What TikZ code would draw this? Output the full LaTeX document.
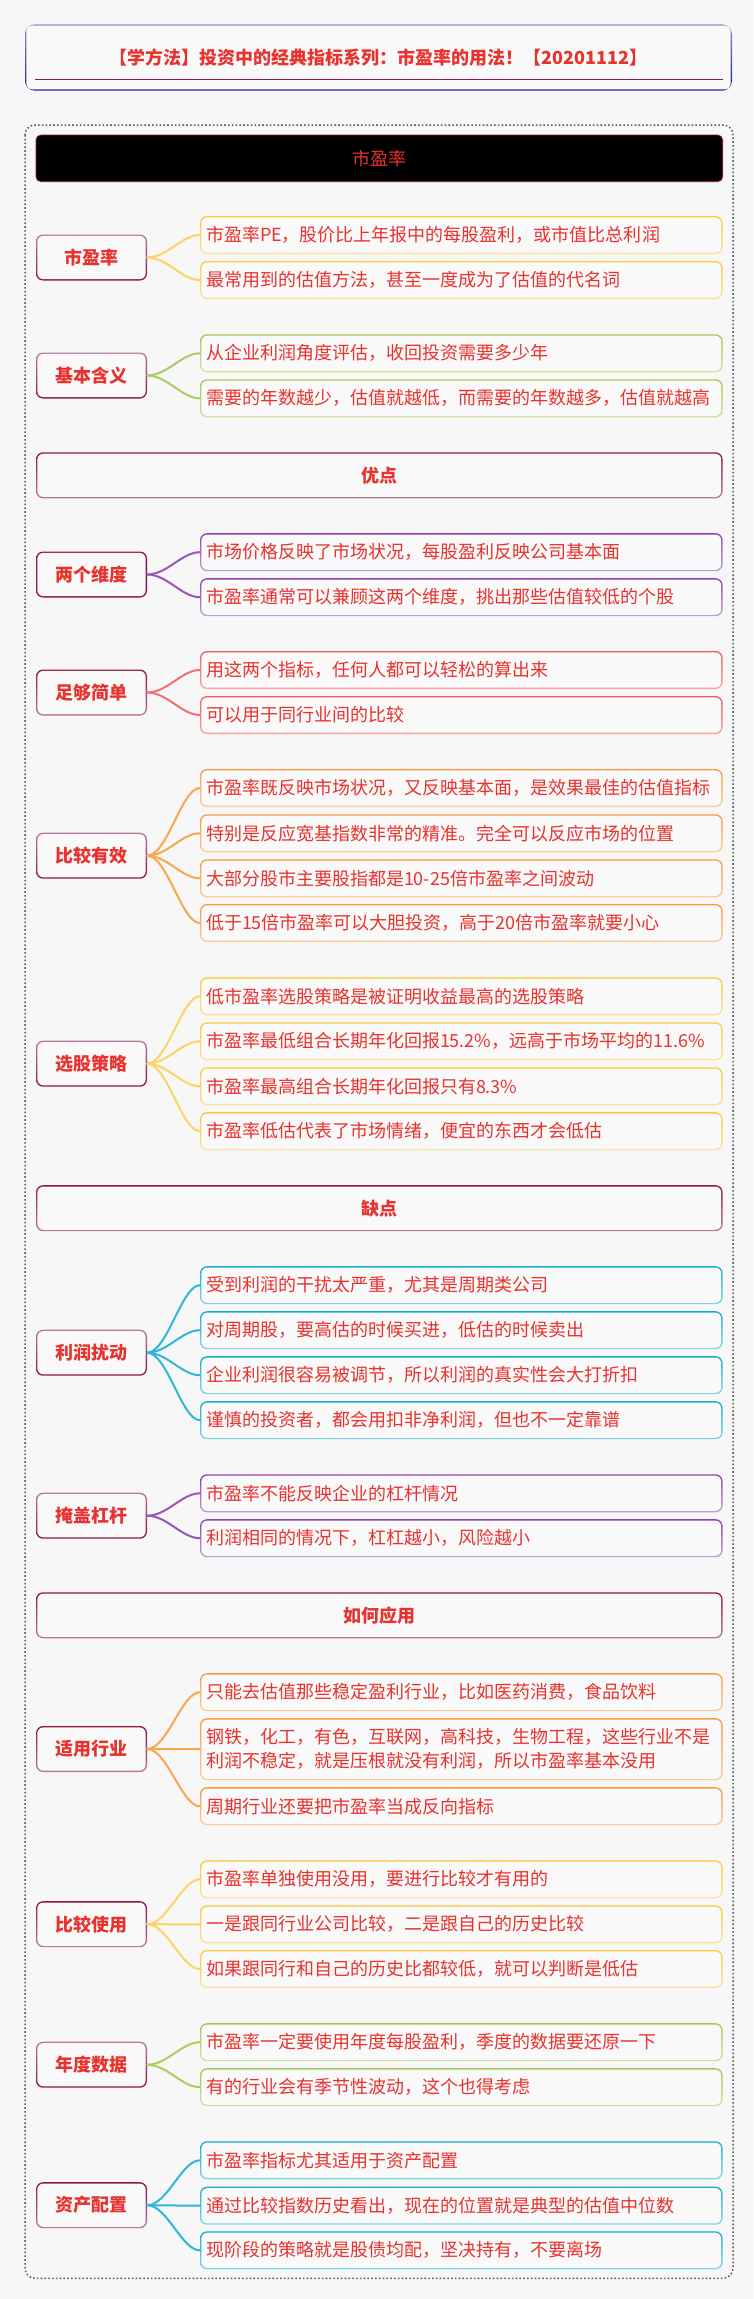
\documentclass[tikz,border=0pt]{standalone}
\usepackage{fontspec}
\setmainfont{Noto Sans CJK SC}
\definecolor{pagebg}{HTML}{F7F7F7}
\definecolor{boxbg}{HTML}{F9F9F9}
\definecolor{txtred}{HTML}{E8322E}
\definecolor{mauve}{HTML}{B9789F}
\definecolor{crim}{HTML}{8C1548}
\definecolor{navyT}{HTML}{8D93C6}
\definecolor{navyB}{HTML}{1B2B8C}
\definecolor{yelT}{HTML}{FCC93A}\definecolor{yelB}{HTML}{FDE1A0}\definecolor{yelC}{HTML}{FDD368}
\definecolor{grnT}{HTML}{A3C657}\definecolor{grnB}{HTML}{D0E2A2}\definecolor{grnC}{HTML}{ABCB65}
\definecolor{purT}{HTML}{8E3FAE}\definecolor{purB}{HTML}{C49AD6}\definecolor{purC}{HTML}{9B55B8}
\definecolor{salT}{HTML}{F05A5E}\definecolor{salB}{HTML}{F7A4A4}\definecolor{salC}{HTML}{F27072}
\definecolor{orgT}{HTML}{F89B3C}\definecolor{orgB}{HTML}{FCCB98}\definecolor{orgC}{HTML}{F9A652}
\definecolor{cyaT}{HTML}{12ADD0}\definecolor{cyaB}{HTML}{84D5EA}\definecolor{cyaC}{HTML}{2EB7D9}
\newcommand\cnx[3]{\draw[conn=#1] (#2.east) .. controls +(20,0) and +(-18,0) .. (#3.west);}
\tikzset{
  gbox/.style 2 args={shade, top color=#1, bottom color=#2, rounded corners=7pt,
    path picture={\fill[boxbg, rounded corners=5.8pt]
      ([xshift=1.4pt,yshift=-1.4pt]path picture bounding box.north west) rectangle
      ([xshift=-1.4pt,yshift=1.4pt]path picture bounding box.south east);}},
  keynode/.style 2 args={gbox={#1}{#2}, minimum width=111pt, minimum height=46pt, inner sep=0pt,
    font=\bfseries\fontsize{18}{22}\selectfont, text=txtred},
  secnode/.style 2 args={gbox={#1}{#2}, minimum width=686.6pt, minimum height=46pt, inner sep=0pt,
    font=\bfseries\fontsize{18}{22}\selectfont, text=txtred},
  leaf/.style 2 args={gbox={#1}{#2}, text width=510.6pt, inner xsep=6pt, inner ysep=0pt,
    minimum height=38pt, align=left, font=\fontsize{18}{24}\selectfont, text=txtred},
  conn/.style={draw=#1, line width=2pt, line cap=round}
}
\begin{document}
\begin{tikzpicture}[x=1pt,y=-1pt]
\fill[pagebg] (0,0) rectangle (753,2299);
\useasboundingbox (0,0) rectangle (753,2299);
% title
\node[gbox={navyT}{navyB}, rounded corners=10pt, minimum width=707pt, minimum height=66.4pt, inner sep=0pt]
  (title) at (378.5,57.5) {};
\node[font=\bfseries\fontsize{18}{22}\selectfont, text=txtred] (titletext) at (378.5,57.3)
  {【学方法】投资中的经典指标系列：市盈率的用法！【20201112】};
\coordinate (ulA) at (35,79.3);
\coordinate (ulB) at (722.6,79.3);
\draw[crim, line width=1.2pt] (ulA) -- (ulB);
% outer dotted frame
\draw[black!65, line width=1.5pt, dash pattern=on 1.6pt off 2.2pt, rounded corners=10pt]
  (25,125) rectangle (733,2278.3);
% black header
\node[fill=black, draw=crim, line width=0.8pt, rounded corners=5pt, minimum width=686.6pt,
  minimum height=46.7pt, inner sep=0pt, text=txtred, font=\fontsize{18}{22}\selectfont]
  (root) at (379.3,158.35) {市盈率};

% ---- group A
\node[keynode={mauve}{crim}] (kA) at (91.5,257.5) {市盈率};
\node[leaf={yelT}{yelB}] (a1) at (461.3,235) {市盈率PE，股价比上年报中的每股盈利，或市值比总利润};
\node[leaf={yelT}{yelB}] (a2) at (461.3,280) {最常用到的估值方法，甚至一度成为了估值的代名词};
\cnx{yelC}{kA}{a1}\cnx{yelC}{kA}{a2}
% ---- group B
\node[keynode={mauve}{crim}] (kB) at (91.5,375.5) {基本含义};
\node[leaf={grnT}{grnB}] (b1) at (461.3,353.3) {从企业利润角度评估，收回投资需要多少年};
\node[leaf={grnT}{grnB}] (b2) at (461.3,398.3) {需要的年数越少，估值就越低，而需要的年数越多，估值就越高};
\cnx{grnC}{kB}{b1}\cnx{grnC}{kB}{b2}
% ---- section 1
\node[secnode={crim}{mauve}] (s1) at (379.3,475.3) {优点};
% ---- group C
\node[keynode={crim}{crim}] (kC) at (91.5,574.5) {两个维度};
\node[leaf={purT}{purB}] (c1) at (461.3,552.2) {市场价格反映了市场状况，每股盈利反映公司基本面};
\node[leaf={purT}{purB}] (c2) at (461.3,597.2) {市盈率通常可以兼顾这两个维度，挑出那些估值较低的个股};
\cnx{purC}{kC}{c1}\cnx{purC}{kC}{c2}
% ---- group D
\node[keynode={crim}{mauve}] (kD) at (91.5,692.5) {足够简单};
\node[leaf={salT}{salB}] (d1) at (461.3,670) {用这两个指标，任何人都可以轻松的算出来};
\node[leaf={salT}{salB}] (d2) at (461.3,715) {可以用于同行业间的比较};
\cnx{salC}{kD}{d1}\cnx{salC}{kD}{d2}
% ---- group E
\node[keynode={mauve}{crim}] (kE) at (91.5,855.7) {比较有效};
\node[leaf={orgT}{orgB}] (e1) at (461.3,788) {市盈率既反映市场状况，又反映基本面，是效果最佳的估值指标};
\node[leaf={orgT}{orgB}] (e2) at (461.3,833.3) {特别是反应宽基指数非常的精准。完全可以反应市场的位置};
\node[leaf={orgT}{orgB}] (e3) at (461.3,878.3) {大部分股市主要股指都是10-25倍市盈率之间波动};
\node[leaf={orgT}{orgB}] (e4) at (461.3,923) {低于15倍市盈率可以大胆投资，高于20倍市盈率就要小心};
\cnx{orgC}{kE}{e1}\cnx{orgC}{kE}{e2}\cnx{orgC}{kE}{e3}\cnx{orgC}{kE}{e4}
% ---- group F
\node[keynode={mauve}{crim}] (kF) at (91.5,1063.7) {选股策略};
\node[leaf={yelT}{yelB}] (f1) at (461.3,996.3) {低市盈率选股策略是被证明收益最高的选股策略};
\node[leaf={yelT}{yelB}] (f2) at (461.3,1041.3) {市盈率最低组合长期年化回报15.2\%，远高于市场平均的11.6\%};
\node[leaf={yelT}{yelB}] (f3) at (461.3,1086.3) {市盈率最高组合长期年化回报只有8.3\%};
\node[leaf={yelT}{yelB}] (f4) at (461.3,1131.2) {市盈率低估代表了市场情绪，便宜的东西才会低估};
\cnx{yelC}{kF}{f1}\cnx{yelC}{kF}{f2}\cnx{yelC}{kF}{f3}\cnx{yelC}{kF}{f4}
% ---- section 2
\node[secnode={crim}{mauve}] (s2) at (379.3,1208.2) {缺点};
% ---- group G
\node[keynode={mauve}{crim}] (kG) at (91.5,1352.7) {利润扰动};
\node[leaf={cyaT}{cyaB}] (g1) at (461.3,1285.2) {受到利润的干扰太严重，尤其是周期类公司};
\node[leaf={cyaT}{cyaB}] (g2) at (461.3,1330.2) {对周期股，要高估的时候买进，低估的时候卖出};
\node[leaf={cyaT}{cyaB}] (g3) at (461.3,1375.2) {企业利润很容易被调节，所以利润的真实性会大打折扣};
\node[leaf={cyaT}{cyaB}] (g4) at (461.3,1420.2) {谨慎的投资者，都会用扣非净利润，但也不一定靠谱};
\cnx{cyaC}{kG}{g1}\cnx{cyaC}{kG}{g2}\cnx{cyaC}{kG}{g3}\cnx{cyaC}{kG}{g4}
% ---- group H
\node[keynode={mauve}{crim}] (kH) at (91.5,1515.7) {掩盖杠杆};
\node[leaf={purT}{purB}] (h1) at (461.3,1493.3) {市盈率不能反映企业的杠杆情况};
\node[leaf={purT}{purB}] (h2) at (461.3,1538.2) {利润相同的情况下，杠杠越小，风险越小};
\cnx{purC}{kH}{h1}\cnx{purC}{kH}{h2}
% ---- section 3
\node[secnode={crim}{mauve}] (s3) at (379.3,1615.3) {如何应用};
% ---- group I
\node[keynode={crim}{mauve}] (kI) at (91.5,1749) {适用行业};
\node[leaf={orgT}{orgB}] (i1) at (461.3,1692.2) {只能去估值那些稳定盈利行业，比如医药消费，食品饮料};
\node[leaf={orgT}{orgB}, minimum height=62pt] (i2) at (461.3,1749.2) {钢铁，化工，有色，互联网，高科技，生物工程，这些行业不是\\利润不稳定，就是压根就没有利润，所以市盈率基本没用};
\node[leaf={orgT}{orgB}] (i3) at (461.3,1806.2) {周期行业还要把市盈率当成反向指标};
\cnx{orgC}{kI}{i1}\cnx{orgC}{kI}{i2}\cnx{orgC}{kI}{i3}
% ---- group J
\node[keynode={crim}{mauve}] (kJ) at (91.5,1924.2) {比较使用};
\node[leaf={yelT}{yelB}] (j1) at (461.3,1879.3) {市盈率单独使用没用，要进行比较才有用的};
\node[leaf={yelT}{yelB}] (j2) at (461.3,1924.3) {一是跟同行业公司比较，二是跟自己的历史比较};
\node[leaf={yelT}{yelB}] (j3) at (461.3,1969) {如果跟同行和自己的历史比都较低，就可以判断是低估};
\cnx{yelC}{kJ}{j1}\cnx{yelC}{kJ}{j2}\cnx{yelC}{kJ}{j3}
% ---- group K
\node[keynode={mauve}{crim}] (kK) at (91.5,2064.7) {年度数据};
\node[leaf={grnT}{grnB}] (k1) at (461.3,2042.2) {市盈率一定要使用年度每股盈利，季度的数据要还原一下};
\node[leaf={grnT}{grnB}] (k2) at (461.3,2087.2) {有的行业会有季节性波动，这个也得考虑};
\cnx{grnC}{kK}{k1}\cnx{grnC}{kK}{k2}
% ---- group L
\node[keynode={crim}{mauve}] (kL) at (91.5,2205.2) {资产配置};
\node[leaf={cyaT}{cyaB}] (l1) at (461.3,2160.3) {市盈率指标尤其适用于资产配置};
\node[leaf={cyaT}{cyaB}] (l2) at (461.3,2205.7) {通过比较指数历史看出，现在的位置就是典型的估值中位数};
\node[leaf={cyaT}{cyaB}] (l3) at (461.3,2250.3) {现阶段的策略就是股债均配，坚决持有，不要离场};
\cnx{cyaC}{kL}{l1}\cnx{cyaC}{kL}{l2}\cnx{cyaC}{kL}{l3}
\end{tikzpicture}
\end{document}
